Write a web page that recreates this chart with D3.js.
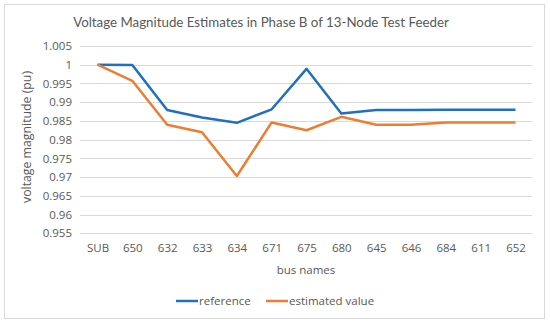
<!DOCTYPE html>
<html><head><meta charset="utf-8">
<script src="https://cdn.jsdelivr.net/npm/d3@7"></script>
<style>body{margin:0;background:#fff}svg{display:block}</style>
</head><body>
<svg id="c" width="550" height="324"></svg>
<script>
const categories = ["SUB","650","632","633","634","671","675","680","645","646","684","611","652"];
const referenceValues = [1.0, 0.9999, 0.9879, 0.9859, 0.9845, 0.9881, 0.9989, 0.9870, 0.9879, 0.9879, 0.9880, 0.9880, 0.9880];
const estimatedValues = [1.0, 0.9957, 0.9840, 0.9820, 0.9703, 0.9846, 0.9825, 0.9861, 0.9840, 0.9840, 0.9846, 0.9846, 0.9846];
const yTicks = [0.955,0.96,0.965,0.97,0.975,0.98,0.985,0.99,0.995,1,1.005];
const seriesNames = ["reference","estimated value"];
const colors = ["#2170BF","#ED7D31"];

const svg = d3.select("#c");
const font = "'Open Sans', 'Noto Sans', sans-serif";
const txt = "#595959";

svg.append("rect").attr("x",4.5).attr("y",4.5).attr("width",540).attr("height",314)
  .attr("fill","#fff").attr("stroke","#d9d9d9").attr("stroke-width",1);

const x = d3.scalePoint().domain(categories).range([97.5,515.5]);
const y = d3.scaleLinear().domain([0.955,1.005]).range([233.3,46]);

// gridlines
svg.append("g").selectAll("line").data(yTicks).join("line")
  .attr("x1",80).attr("x2",532)
  .attr("y1",d=>Math.round(y(d))+0.5).attr("y2",d=>Math.round(y(d))+0.5)
  .attr("stroke","#d9d9d9").attr("stroke-width",1);

// y axis labels
const yAxis = d3.axisLeft(y).tickValues(yTicks).tickFormat(d=>d3.format("")(+d.toFixed(3))).tickSize(0).tickPadding(0);
const ga = svg.append("g").attr("transform","translate(72,0)").call(yAxis);
ga.select(".domain").remove();
ga.selectAll("text").attr("font-family",font).attr("font-size",11.5).attr("fill",txt);

// x axis labels
const xAxis = d3.axisBottom(x).tickSize(0).tickPadding(0);
const gx = svg.append("g").attr("transform","translate(0,244)").call(xAxis);
gx.select(".domain").remove();
gx.selectAll("text").attr("font-family",font).attr("font-size",11.5).attr("fill",txt);

// lines
const line = d3.line().x((d,i)=>x(categories[i])).y(d=>y(d));
[referenceValues, estimatedValues].forEach((vals,k)=>{
  svg.append("path").datum(vals).attr("d",line).attr("fill","none")
    .attr("stroke",colors[k]).attr("stroke-width",2.5).attr("stroke-linejoin","round");
});

// title
const title = svg.append("text").attr("x",261).attr("y",27).attr("text-anchor","middle")
  .attr("font-family","Lato, 'Open Sans', sans-serif").attr("font-size",14.5).attr("fill",txt)
  .text("Voltage Magnitude Estimates in Phase B of 13-Node Test Feeder");
const tw = title.node().getComputedTextLength();
title.attr("font-size", (14.5*376/tw).toFixed(2));

// axis titles
svg.append("text").attr("transform","translate(31,137) rotate(-90)").attr("text-anchor","middle")
  .attr("font-family",font).attr("font-size",12.3).attr("fill",txt).text("voltage magnitude (pu)");
svg.append("text").attr("x",306).attr("y",274).attr("text-anchor","middle")
  .attr("font-family",font).attr("font-size",11.5).attr("fill",txt).text("bus names");

// legend
const legX = [176,266];
seriesNames.forEach((n,k)=>{
  const g = svg.append("g");
  g.append("line").attr("x1",legX[k]).attr("x2",legX[k]+22).attr("y1",301).attr("y2",301)
    .attr("stroke",colors[k]).attr("stroke-width",2.5);
  g.append("text").attr("x",legX[k]+23).attr("y",305).attr("font-family",font)
    .attr("font-size",11.5).attr("fill",txt).text(n);
});
</script>
</body></html>
